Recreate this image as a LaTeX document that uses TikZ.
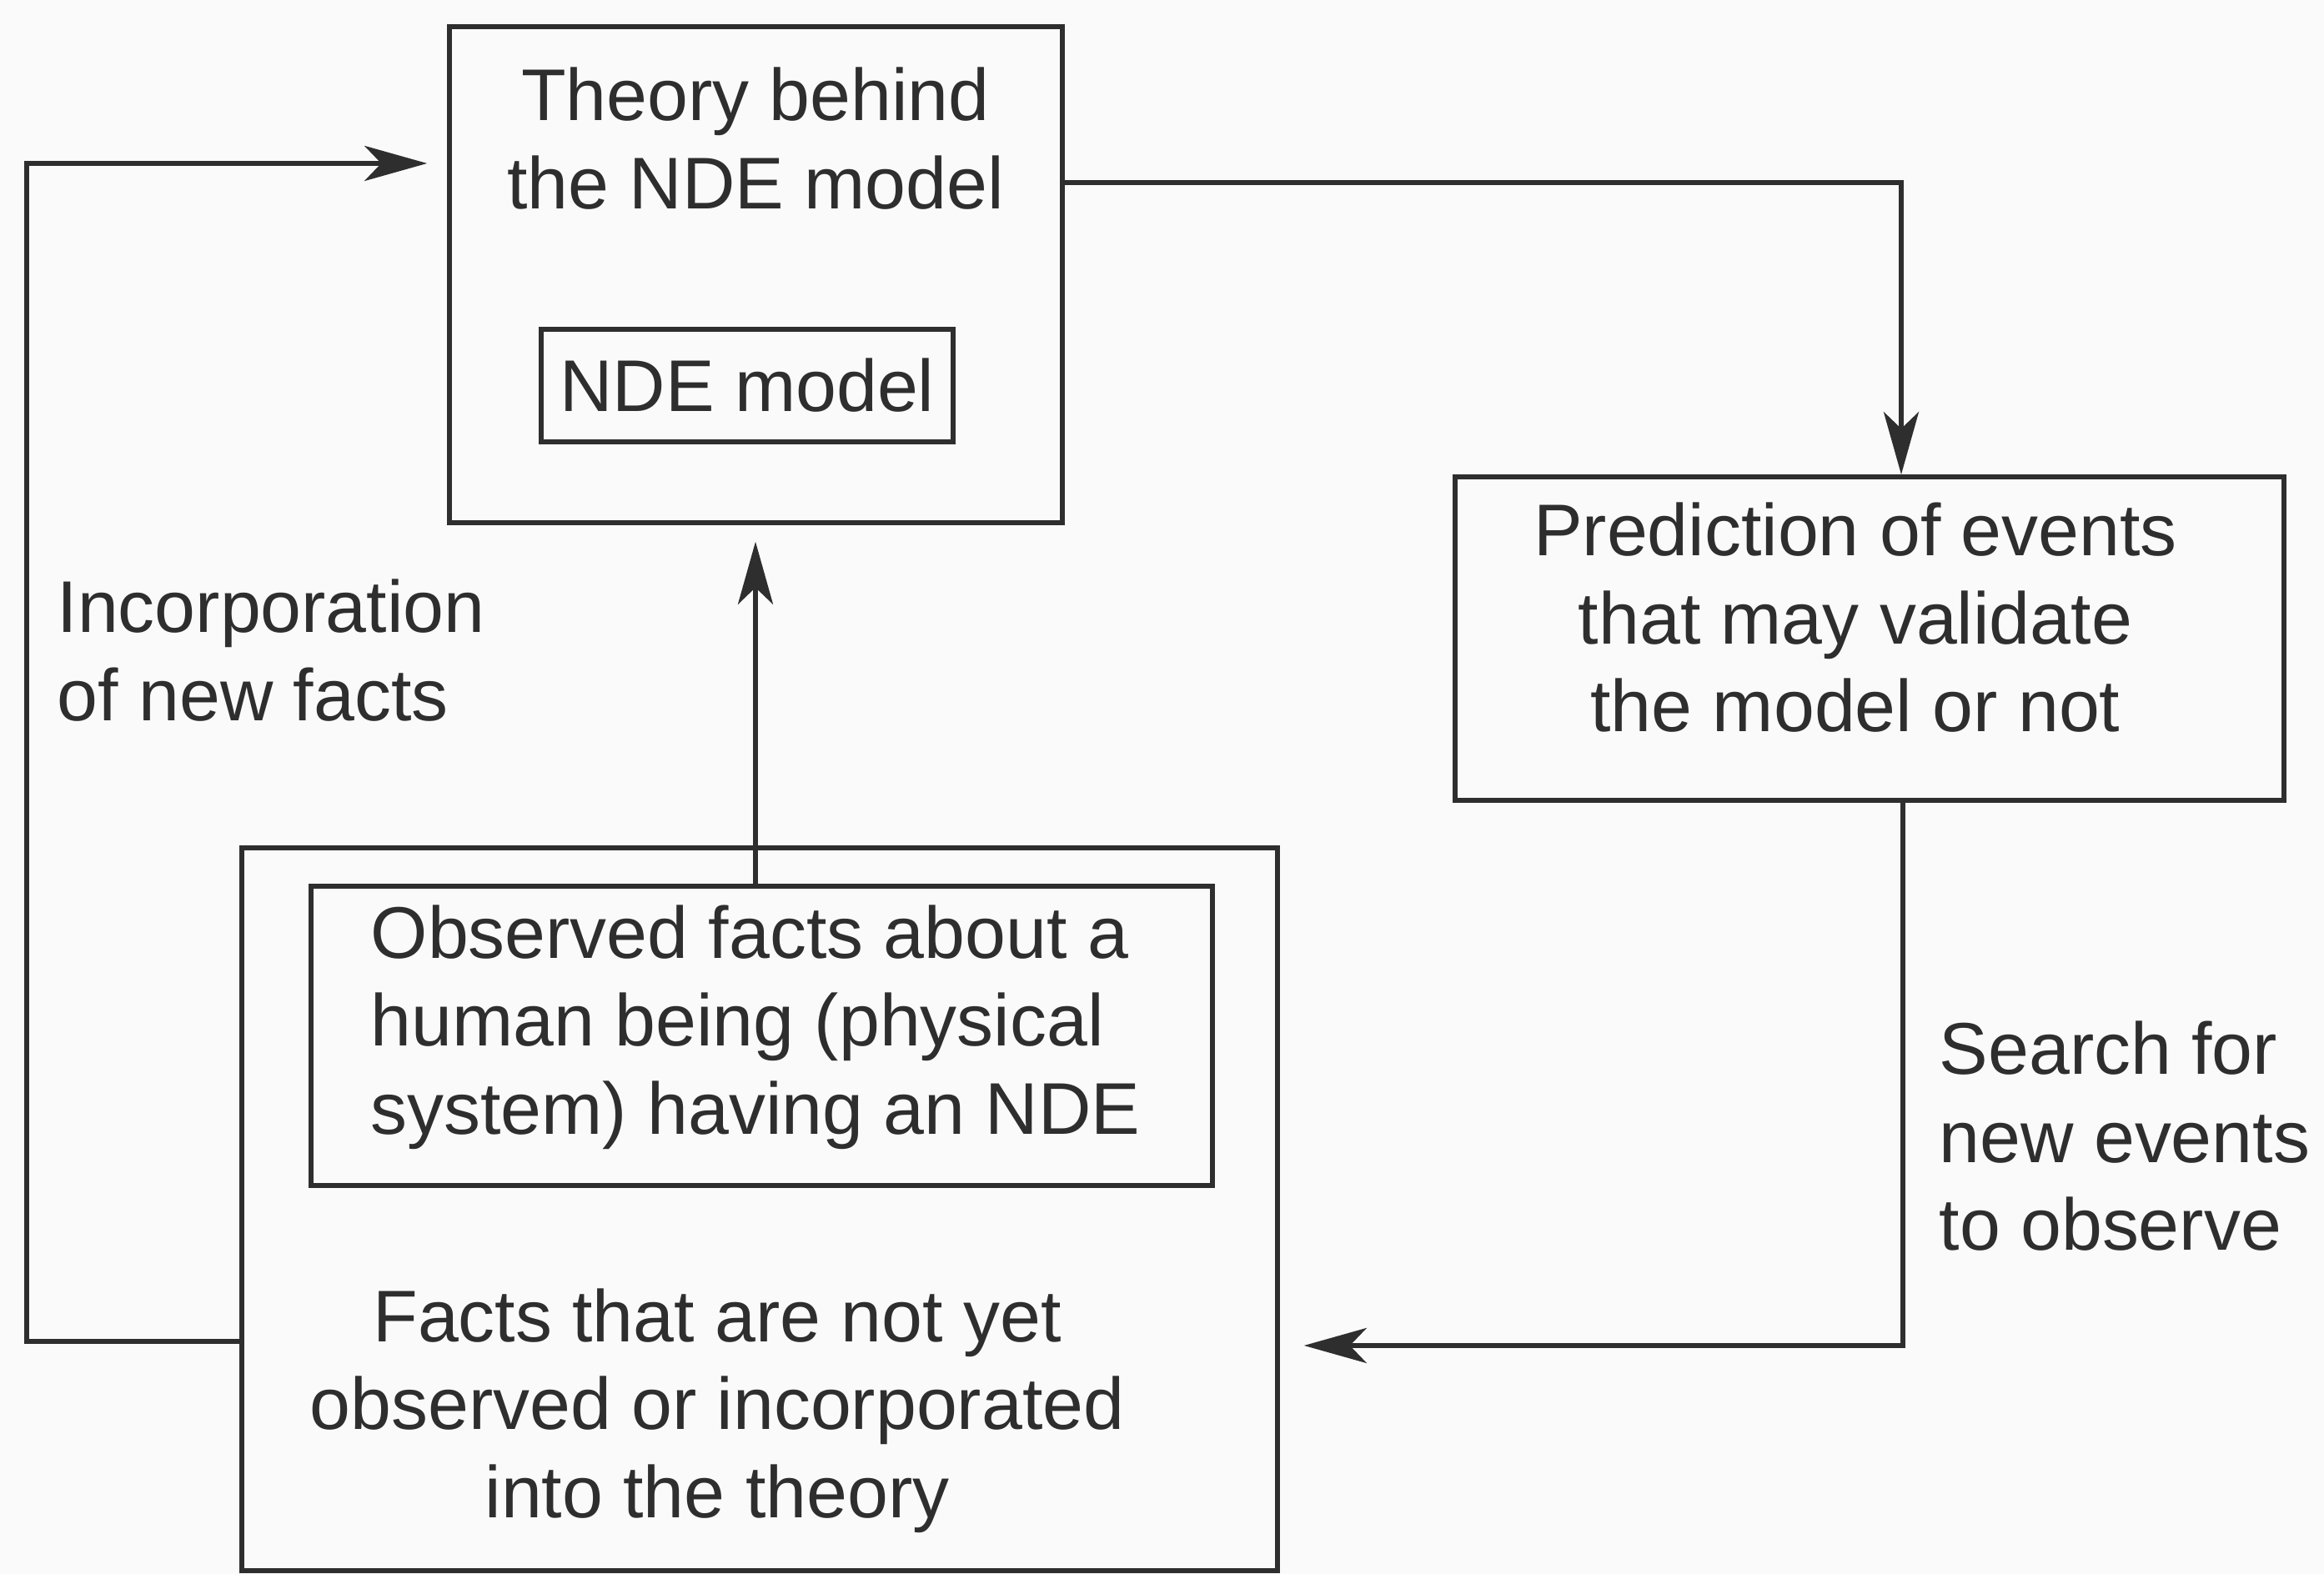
\documentclass[tikz,border=0pt]{standalone}
\usepackage{fontspec}
\setmainfont{Liberation Sans}
\usepackage{xcolor}
\usetikzlibrary{arrows.meta,positioning,calc}

\colorlet{ink}{black!82}

\begin{document}
\begin{tikzpicture}[
    box/.style={draw=ink, line width=1.6pt, inner sep=0pt},
    txt/.style={font=\fontsize{25}{30}\selectfont, text=ink, inner sep=0pt},
    arr/.style={draw=ink, line width=1.6pt, -{Stealth[length=7.5mm,width=4.2mm,inset=2mm]}}
]
    \useasboundingbox[fill=black!2] (0,0) rectangle (27.87,18.88);

    % theory with the model inside
    \node[box, minimum width=7.35cm, minimum height=5.95cm] (theory) at (9.065,15.585) {};
    \node[txt, align=center] (theorytxt) at (9.06,17.22) {Theory behind\\the NDE model};
    \node[box, txt, minimum width=4.94cm, minimum height=1.35cm] (ndemodel) at (8.96,14.255) {NDE model};

    % prediction
    \node[box, minimum width=9.94cm, minimum height=3.88cm] (predict) at (22.42,11.22) {};
    \node[txt, align=center] (predicttxt) at (22.25,11.47) {Prediction of events\\that may validate\\the model or not};

    % facts, observed and not yet observed
    \node[box, minimum width=12.42cm, minimum height=8.67cm] (facts) at (9.11,4.375) {};
    \node[box, minimum width=10.81cm, minimum height=3.59cm] (observed) at (9.135,6.455) {};
    \node[txt, align=left, anchor=west] (observedtxt) at (4.44,6.56) {Observed facts about a\\human being (physical\\system) having an NDE};
    \node[txt, align=center] (factstxt) at (8.60,1.96) {Facts that are not yet\\observed or incorporated\\into the theory};

    % side labels
    \node[txt, align=left, anchor=west] (incorp) at (0.68,11.08) {Incorporation\\of new facts};
    \node[txt, align=left, anchor=west] (search) at (23.25,5.25) {Search for\\new events\\to observe};

    % connectors
    \coordinate (ttop) at (22.80,16.69);
    \draw[arr] (theory.east |- ttop) -| (predict.north -| ttop);
    \coordinate (lft) at (0.32,2.79);
    \coordinate (lup) at (0.32,16.92);
    \draw[arr, shorten >=2.4mm] (facts.west |- lft) -- (lft) -- (lup) -- (theory.west |- lup);
    \coordinate (up) at (9.06,0);
    \draw[arr, shorten >=2mm] (observed.north -| up) -- (theory.south -| up);
    \coordinate (rdn) at (22.82,2.74);
    \draw[arr, shorten >=2.9mm] (predict.south -| rdn) |- (facts.east |- rdn);
\end{tikzpicture}
\end{document}
